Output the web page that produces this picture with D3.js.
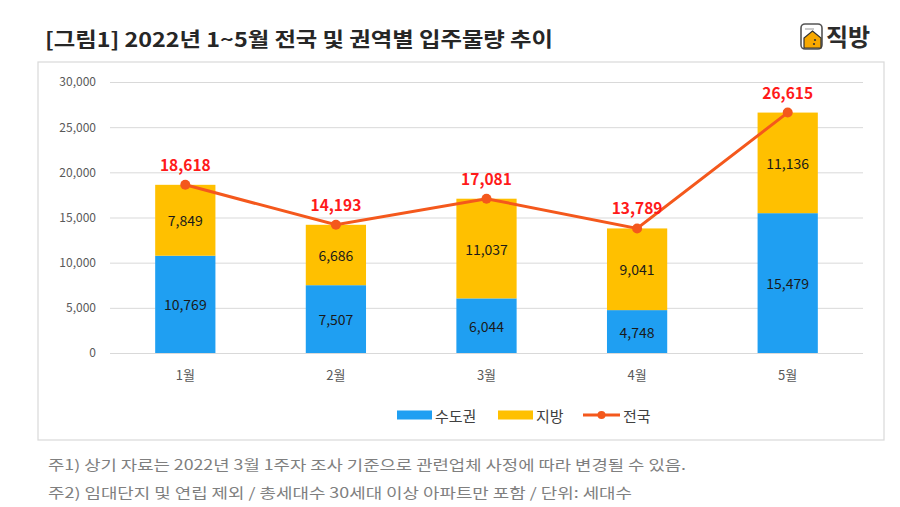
<!DOCTYPE html>
<html>
<head>
<meta charset="utf-8">
<script src="https://cdn.jsdelivr.net/npm/d3@7"></script>
<style>
  body { margin: 0; background: #fff; font-family: "Noto Sans CJK KR", "Noto Sans", sans-serif; }
</style>
</head>
<body>
<div id="chart"></div>
<script>
// 데이터
const months = ["1월", "2월", "3월", "4월", "5월"];
const metro = [10769, 7507, 6044, 4748, 15479];   // 수도권
const local = [7849, 6686, 11037, 9041, 11136];   // 지방
const total = [18618, 14193, 17081, 13789, 26615]; // 전국
const yTicks = [0, 5000, 10000, 15000, 20000, 25000, 30000];
const notes = [
  "주1) 상기 자료는 2022년 3월 1주자 조사 기준으로 관련업체 사정에 따라 변경될 수 있음.",
  "주2) 임대단지 및 연립 제외 / 총세대수 30세대 이상 아파트만 포함 / 단위: 세대수"
];

const W = 900, H = 507;
const C_BLUE = "#1f9ff2", C_YEL = "#ffc000", C_LINE = "#f4581c", C_RED = "#ff1a1a";
const fmt = d3.format(",");

const svg = d3.select("#chart").append("svg").attr("width", W).attr("height", H);

// 제목
svg.append("text")
  .attr("x", 45).attr("y", 47)
  .attr("textLength", 508).attr("lengthAdjust", "spacingAndGlyphs")
  .style("font-size", "20px").style("font-weight", 700).style("fill", "#262626")
  .text("[그림1] 2022년 1~5월 전국 및 권역별 입주물량 추이");

// 로고
const logo = svg.append("g").attr("transform", "translate(800,23)");
logo.append("rect").attr("x", 1).attr("y", 1).attr("width", 21).attr("height", 25).attr("rx", 4)
  .attr("fill", "#fff").attr("stroke", "#555").attr("stroke-width", 1.6);
logo.append("line").attr("x1", 5).attr("x2", 14).attr("y1", 6).attr("y2", 6).attr("stroke", "#999").attr("stroke-width", 1);
logo.append("path").attr("d", "M4,25 L4,15 L12.5,8 L21,15 L21,25 Z")
  .attr("fill", "#f7a800").attr("stroke", "#333").attr("stroke-width", 1.2);
logo.append("circle").attr("cx", 15).attr("cy", 17).attr("r", 1.1).attr("fill", "#333");
logo.append("circle").attr("cx", 14).attr("cy", 21).attr("r", 1.1).attr("fill", "#333");
logo.append("text").attr("x", 26).attr("y", 23)
  .style("font-size", "24px").style("font-weight", 700).style("fill", "#2b2b2b").text("직방");

// 차트 박스
svg.append("rect").attr("x", 38).attr("y", 62).attr("width", 846).attr("height", 378)
  .attr("fill", "#fff").attr("stroke", "#d9d9d9").attr("stroke-width", 1.2);

const m = { left: 110, right: 863, top: 82, bottom: 353 };
const x = d3.scaleBand().domain(months).range([m.left, m.right]).paddingInner(0.6).paddingOuter(0.3);
const xc = d => x(d) + x.bandwidth() / 2;
const y = d3.scaleLinear().domain([0, 30000]).range([m.bottom, m.top]);

// Y축과 격자
const yAxis = svg.append("g").attr("transform", `translate(${m.left},0)`)
  .call(d3.axisLeft(y).tickValues(yTicks).tickFormat(fmt).tickSize(-(m.right - m.left)).tickPadding(14));
yAxis.select(".domain").remove();
yAxis.selectAll(".tick line").attr("stroke", "#d9d9d9").attr("stroke-width", 1);
yAxis.selectAll(".tick text").style("font-size", "12px").style("fill", "#595959")
  .style("font-family", "'Noto Sans CJK KR', sans-serif");

// X축
const xAxis = svg.append("g").attr("transform", `translate(0,${m.bottom})`)
  .call(d3.axisBottom(x).tickSize(0).tickPadding(18));
xAxis.select(".domain").remove();
xAxis.selectAll(".tick text").style("font-size", "13px").style("fill", "#595959")
  .style("font-family", "'Noto Sans CJK KR', sans-serif");

// 누적 막대
const stack = months.map((d, i) => ({ m: d, a: metro[i], b: local[i] }));
const bars = svg.append("g");
bars.selectAll(".metro").data(stack).join("rect")
  .attr("x", d => x(d.m)).attr("width", x.bandwidth())
  .attr("y", d => y(d.a)).attr("height", d => y(0) - y(d.a))
  .attr("fill", C_BLUE);
bars.selectAll(".local").data(stack).join("rect")
  .attr("x", d => x(d.m)).attr("width", x.bandwidth())
  .attr("y", d => y(d.a + d.b)).attr("height", d => y(d.a) - y(d.a + d.b))
  .attr("fill", C_YEL);

const lblStyle = s => s.attr("text-anchor", "middle").attr("dominant-baseline", "central")
  .style("font-size", "14px").style("fill", "#1a1a1a").style("font-family", "'Noto Sans CJK KR', sans-serif");
bars.selectAll(".la").data(stack).join("text")
  .attr("x", d => xc(d.m)).attr("y", d => (y(0) + y(d.a)) / 2)
  .call(lblStyle).text(d => fmt(d.a));
bars.selectAll(".lb").data(stack).join("text")
  .attr("x", d => xc(d.m)).attr("y", d => (y(d.a) + y(d.a + d.b)) / 2)
  .call(lblStyle).text(d => fmt(d.b));

// 전국 꺾은선
const pts = months.map((d, i) => ({ m: d, v: total[i] }));
svg.append("path").datum(pts)
  .attr("fill", "none").attr("stroke", C_LINE).attr("stroke-width", 3)
  .attr("d", d3.line().x(d => xc(d.m)).y(d => y(d.v)));
svg.selectAll(".pt").data(pts).join("circle")
  .attr("cx", d => xc(d.m)).attr("cy", d => y(d.v)).attr("r", 5).attr("fill", C_LINE);
svg.selectAll(".tl").data(pts).join("text")
  .attr("x", d => xc(d.m)).attr("y", d => y(d.v) - 14)
  .attr("text-anchor", "middle")
  .style("font-size", "15.5px").style("font-weight", 700).style("fill", C_RED)
  .text(d => fmt(d.v));

// 범례
const lg = svg.append("g").attr("transform", "translate(397,415)");
const items = [
  { name: "수도권", type: "bar", c: C_BLUE, x: 0 },
  { name: "지방", type: "bar", c: C_YEL, x: 101 },
  { name: "전국", type: "line", c: C_LINE, x: 186 }
];
items.forEach(it => {
  const g = lg.append("g").attr("transform", `translate(${it.x},0)`);
  if (it.type === "bar") {
    g.append("rect").attr("x", 0).attr("y", -4.5).attr("width", 35).attr("height", 9).attr("fill", it.c);
  } else {
    g.append("line").attr("x1", 0).attr("x2", 37).attr("y1", 0).attr("y2", 0)
      .attr("stroke", it.c).attr("stroke-width", 3);
    g.append("circle").attr("cx", 18.5).attr("cy", 0).attr("r", 4).attr("fill", it.c);
  }
  g.append("text").attr("x", it.type === "bar" ? 38 : 40).attr("y", 0).attr("dominant-baseline", "central")
    .style("font-size", "15px").style("fill", "#404040").text(it.name);
});

// 주석
const noteLen = [638, 584];
svg.selectAll(".note").data(notes).join("text")
  .attr("x", 48).attr("y", (d, i) => 470 + i * 28)
  .attr("textLength", (d, i) => noteLen[i]).attr("lengthAdjust", "spacingAndGlyphs")
  .style("font-size", "14px").style("fill", "#7f7f7f")
  .text(d => d);
</script>
</body>
</html>
